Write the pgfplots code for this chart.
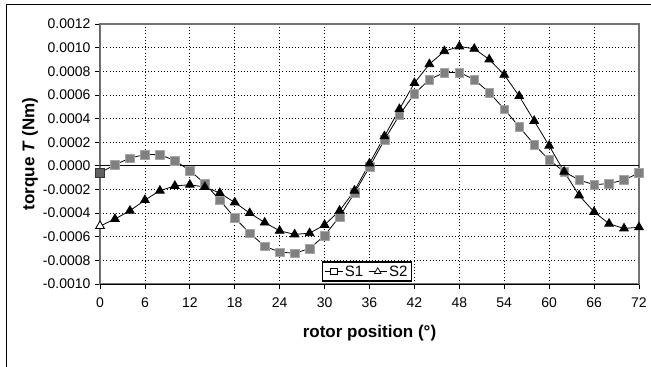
\documentclass[border=0pt]{standalone}
\usepackage{pgfplots}
\pgfplotsset{compat=1.18}
\usepackage{fontspec}
\setmainfont{Liberation Sans}
\definecolor{sqgray}{gray}{0.5}
\definecolor{bordergray}{gray}{0.45}
\begin{document}
\begin{tikzpicture}[x=1pt,y=1pt]
\path[use as bounding box] (0,0) rectangle (651,367);
\draw[black, line width=1pt] (6,0) -- (6,362) -- (651,362);
\begin{axis}[
  at={(100pt,83pt)}, anchor=south west,
  scale only axis, width=539pt, height=260pt,
  xmin=0, xmax=72, ymin=-0.0010, ymax=0.0012,
  xtick={0,6,...,72},
  ytick={-0.0010,-0.0008,-0.0006,-0.0004,-0.0002,0,0.0002,0.0004,0.0006,0.0008,0.0010,0.0012},
  scaled y ticks=false,
  yticklabel style={/pgf/number format/fixed, /pgf/number format/fixed zerofill, /pgf/number format/precision=4, /pgf/number format/assume math mode=true, xshift=-1pt},
  xticklabel style={/pgf/number format/assume math mode=true, yshift=-5pt},
  tick label style={font=\fontsize{14}{16}\selectfont},
  grid=major,
  major grid style={black, line width=0.8pt, dash pattern=on 1pt off 2.2pt},
  axis line style={bordergray, line width=1.6pt},
  tick align=outside, tick pos=left,
  major tick length=5pt,
  tick style={black, line width=0.8pt},
  extra y ticks={0}, extra y tick labels={},
  extra y tick style={grid=major, major grid style={solid, black, line width=0.8pt}, tick style={draw=none}},
  xlabel={\textbf{rotor position (°)}},
  ylabel={\textbf{torque \textit{T} (Nm)}},
  label style={font=\fontsize{17}{19}\selectfont},
  xlabel style={at={(axis description cs:0.5,0)}, anchor=center, yshift=-49pt},
  ylabel style={at={([xshift=-70pt]axis description cs:0,0.5)}, anchor=center},
  legend columns=2,
  legend style={at={(axis cs:29.6,-0.00098)}, anchor=south west, draw=black, line width=1.2pt,
    font=\fontsize{15}{17}\selectfont, inner xsep=2pt, inner ysep=1.5pt,
    /tikz/every even column/.append style={column sep=3pt}},
  legend image code/.code={\draw[#1, line width=0.8pt] (0pt,0pt) -- (18pt,0pt); \draw[#1, line width=0.8pt, mark repeat=2, mark phase=2] plot coordinates {(0pt,0pt) (9pt,0pt) (18pt,0pt)};},
]
\addlegendimage{black, mark=square*, mark size=3.3pt, mark options={fill=white, draw=black, line width=0.7pt}}
\addlegendentry{S1}
\addlegendimage{black, mark=triangle*, mark size=3.8pt, mark options={fill=white, draw=black, line width=0.7pt}}
\addlegendentry{S2}
\draw[black, line width=1pt] (rel axis cs:0,1) -- (rel axis cs:0,0) -- (rel axis cs:1,0);
\addplot[black, line width=0.8pt, mark=square*, mark size=4.3pt, mark options={fill=sqgray, draw=gray!70, line width=0.5pt}, forget plot] coordinates {
(0,-0.00006) (2,0.00001) (4,0.000065) (6,0.000096) (8,0.000094) (10,0.000045)
(12,-0.00004) (14,-0.00015) (16,-0.00029) (18,-0.00044) (20,-0.00057) (22,-0.00068)
(24,-0.00073) (26,-0.00074) (28,-0.00070) (30,-0.00059) (32,-0.00043) (34,-0.00023)
(36,-0.00001) (38,0.00022) (40,0.00043) (42,0.00061) (44,0.00073) (46,0.00079)
(48,0.00079) (50,0.00073) (52,0.00062) (54,0.00048) (56,0.00033) (58,0.00018)
(60,0.00005) (62,-0.00005) (64,-0.00012) (66,-0.00016) (68,-0.00015) (70,-0.00012) (72,-0.00006)
};
\addplot[black, line width=0.8pt, mark=triangle*, mark size=5pt, mark options={fill=black, draw=black}, forget plot] coordinates {
(0,-0.00051) (2,-0.00045) (4,-0.00038) (6,-0.00029) (8,-0.00021) (10,-0.00017)
(12,-0.00016) (14,-0.00018) (16,-0.00023) (18,-0.00031) (20,-0.00040) (22,-0.00048)
(24,-0.00055) (26,-0.00058) (28,-0.00057) (30,-0.00050) (32,-0.00038) (34,-0.00021)
(36,0.00002) (38,0.00025) (40,0.00048) (42,0.00070) (44,0.00086) (46,0.00097)
(48,0.00101) (50,0.00099) (52,0.00090) (54,0.00077) (56,0.00059) (58,0.00038)
(60,0.00017) (62,-0.00005) (64,-0.00025) (66,-0.00039) (68,-0.00049) (70,-0.00053) (72,-0.00052)
};
\addplot[only marks, mark=square*, mark size=4.3pt, mark options={fill=gray!75!black, draw=black!80, line width=0.7pt}, forget plot] coordinates {(0,-0.00006)};
\addplot[only marks, mark=triangle*, mark size=5pt, mark options={fill=white, draw=black, line width=0.7pt}, forget plot] coordinates {(0,-0.00051)};
\end{axis}
\end{tikzpicture}
\end{document}
